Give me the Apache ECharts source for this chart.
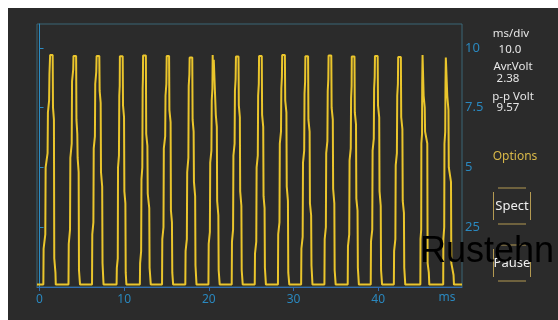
<!DOCTYPE html>
<html>
<head>
<meta charset="utf-8">
<script src="https://cdn.jsdelivr.net/npm/echarts@6/dist/echarts.min.js"></script>
<style>
html,body{margin:0;padding:0;background:#ffffff;width:558px;height:320px;overflow:hidden;}
#chart{position:absolute;left:8px;top:8px;width:550px;height:312px;}
</style>
</head>
<body>
<div id="chart"></div>
<script>
// Time (ms) and voltage samples
const timeMs = [
  -0.3,
  0.45,0.48,0.68,0.72,0.95,0.99,1.13,1.17,1.25,1.55,1.59,1.70,1.74,1.88,1.92,
  3.42,3.45,3.60,3.64,3.80,3.84,3.98,4.01,4.32,4.36,4.46,4.50,4.62,4.66,4.78,
  6.20,6.23,6.36,6.40,6.54,6.58,6.70,6.74,7.06,7.10,7.22,7.26,7.40,7.44,7.56,
  9.10,9.13,9.24,9.27,9.38,9.42,9.47,9.49,9.82,9.86,9.98,10.02,10.14,10.18,10.26,
  11.85,11.88,12.00,12.04,12.14,12.18,12.21,12.23,12.56,12.60,12.74,12.78,12.96,13.00,13.14,
  14.47,14.50,14.64,14.68,14.84,14.88,14.98,15.02,15.30,15.34,15.48,15.52,15.64,15.68,15.78,
  17.22,17.25,17.40,17.44,17.58,17.62,17.70,17.73,18.04,18.08,18.20,18.24,18.38,18.42,18.54,
  19.95,19.98,20.12,20.16,20.30,20.34,20.42,20.45,20.50,20.58,20.78,20.82,20.94,20.98,21.12,21.16,21.28,
  22.70,22.73,22.86,22.90,23.04,23.08,23.16,23.20,23.50,23.54,23.66,23.70,23.84,23.88,24.00,
  25.42,25.45,25.60,25.64,25.78,25.82,25.90,25.93,26.25,26.29,26.42,26.46,26.58,26.62,26.74,
  28.16,28.19,28.34,28.38,28.52,28.56,28.63,28.66,28.98,29.02,29.16,29.20,29.34,29.38,29.50,
  30.90,30.93,31.08,31.12,31.26,31.30,31.37,31.40,31.72,31.76,31.90,31.94,32.08,32.12,32.24,
  33.65,33.68,33.82,33.86,34.00,34.04,34.11,34.14,34.46,34.50,34.64,34.68,34.82,34.86,34.98,
  36.40,36.43,36.58,36.62,36.76,36.80,36.86,36.88,37.20,37.24,37.38,37.42,37.56,37.60,37.72,
  39.12,39.15,39.30,39.34,39.48,39.52,39.59,39.62,39.94,39.98,40.12,40.16,40.30,40.34,40.46,
  41.85,41.88,42.03,42.07,42.21,42.25,42.33,42.36,42.68,42.72,42.86,42.90,43.04,43.08,43.20,
  44.98,45.00,45.08,45.10,45.18,45.20,45.24,45.33,45.37,45.50,45.54,45.80,45.84,45.98,46.04,
  47.68,47.70,47.80,47.83,47.92,47.95,47.99,48.12,48.16,48.30,48.34,48.60,48.64,48.90,48.95,
  49.45,49.55,49.65,49.90
];
const volts = [
  0.1,
  0.1,1.6,2.2,5.0,5.6,7.3,7.8,8.9,9.7,9.7,7.5,7.0,1.2,0.6,0.1,
  0.1,1.8,2.4,5.4,6.0,8.6,9.1,9.66,9.66,7.0,6.4,5.4,4.8,0.7,0.1,
  0.1,2.2,2.7,5.8,6.3,8.5,9.0,9.66,9.66,8.2,7.7,4.8,4.2,1.0,0.1,
  0.1,0.8,1.2,5.0,5.5,8.0,8.4,9.65,9.65,7.6,7.1,4.0,3.5,0.6,0.1,
  0.1,1.0,1.5,4.5,5.0,8.3,8.7,9.68,9.68,6.4,5.9,3.9,3.3,0.8,0.1,
  0.1,2.0,2.5,5.8,6.3,8.0,8.5,9.66,9.66,7.4,6.9,3.2,2.7,0.6,0.1,
  0.1,1.5,2.0,4.8,5.4,8.4,8.9,9.6,9.6,7.0,6.5,4.4,3.8,0.9,0.1,
  0.1,1.8,2.3,5.2,5.7,7.8,8.3,9.7,8.8,9.5,9.5,7.2,6.7,3.6,3.0,0.7,0.1,
  0.1,1.9,2.4,5.5,6.0,8.2,8.7,9.64,9.64,7.6,7.1,4.0,3.4,0.7,0.1,
  0.1,1.4,1.9,5.0,5.5,8.0,8.5,9.66,9.66,7.2,6.7,3.8,3.3,0.8,0.1,
  0.1,2.2,2.7,6.0,6.5,8.3,8.8,9.7,9.7,7.8,7.3,4.2,3.6,0.6,0.1,
  0.1,1.6,2.1,5.2,5.7,8.1,8.6,9.65,9.65,7.0,6.5,3.5,3.0,0.9,0.1,
  0.1,2.0,2.5,5.6,6.1,8.2,8.7,9.68,9.68,7.5,7.0,4.1,3.5,0.7,0.1,
  0.1,1.7,2.2,5.3,5.8,7.9,8.4,9.64,9.64,7.3,6.8,3.7,3.2,0.8,0.1,
  0.1,1.9,2.4,5.7,6.2,8.3,8.8,9.66,9.66,7.6,7.1,4.0,3.4,0.7,0.1,
  0.1,1.5,2.0,5.1,5.6,8.0,8.5,9.62,9.62,7.1,6.6,3.6,3.1,0.8,0.1,
  0.1,2.0,2.4,6.0,6.4,8.5,9.7,9.7,8.0,7.5,6.5,6.0,1.0,0.6,0.1,
  0.1,2.0,2.5,6.0,6.5,8.5,9.6,9.6,8.0,7.4,5.0,4.4,1.0,0.5,0.1,
  0.1,0.03,0.1,0.1
];
const xTickValues = [0, 10, 20, 30, 40];
const xTickLabels = ['0', '10', '20', '30', '40'];
const yTickValues = [2.5, 5, 7.5, 10];
const yTickLabels = ['25', '5', '7.5', '10'];
const xUnit = 'ms';
const infoLabels = ['ms/div', '10.0', 'Avr.Volt', '2.38', 'p-p Volt', '9.57'];
const optionLabels = ['Options', 'Spect', 'Pause'];
const watermark = 'Rustehn';

const trace = timeMs.map((t, i) => [t, volts[i]]);

const chart = echarts.init(document.getElementById('chart'), null, {renderer: 'canvas'});
const font = "'Noto Sans', 'Open Sans', sans-serif";
const axisBlue = '#2a88bf';

const infoY = [26, 42, 59, 71, 89, 100];
const infoX = [503, 502, 505, 500, 505, 500];
const graphics = infoLabels.map((s, i) => ({
  type: 'text', x: infoX[i], y: infoY[i],
  style: {text: s, fill: '#e6e6e6', font: '11.5px ' + font, align: 'center', verticalAlign: 'middle'}
}));
graphics.push({type: 'text', x: 507, y: 149,
  style: {text: optionLabels[0], fill: '#d8b848', font: '12px ' + font, align: 'center', verticalAlign: 'middle'}});
function button(label, top, bottom) {
  const g = [];
  const lc = '#b49a52';
  g.push({type: 'line', shape: {x1: 490, y1: top, x2: 518, y2: top}, style: {stroke: lc, lineWidth: 1}});
  g.push({type: 'line', shape: {x1: 490, y1: bottom, x2: 518, y2: bottom}, style: {stroke: lc, lineWidth: 1}});
  g.push({type: 'line', shape: {x1: 485.5, y1: top + 4, x2: 485.5, y2: bottom - 4}, style: {stroke: lc, lineWidth: 1}});
  g.push({type: 'line', shape: {x1: 522.5, y1: top + 4, x2: 522.5, y2: bottom - 4}, style: {stroke: lc, lineWidth: 1}});
  g.push({type: 'text', x: 504, y: (top + bottom) / 2,
    style: {text: label, fill: '#f0f0f0', font: '13px ' + font, align: 'center', verticalAlign: 'middle'}});
  return g;
}
graphics.push(...button(optionLabels[1], 180, 216));
graphics.push(...button(optionLabels[2], 237, 273));
graphics.push({type: 'text', x: 439, y: 290,
  style: {text: xUnit, fill: axisBlue, font: '12px ' + font, align: 'center', verticalAlign: 'middle'}});
graphics.push({type: 'text', x: 412, y: 244, z: 100,
  style: {text: watermark, fill: '#000000', font: "36px 'Liberation Sans', Arial, sans-serif", align: 'left', verticalAlign: 'middle'}});

chart.setOption({
  animation: false,
  backgroundColor: '#2b2b2b',
  grid: {left: 29, top: 16, right: 96, bottom: 33, show: true, borderColor: '#3b6676', borderWidth: 1, backgroundColor: 'transparent'},
  xAxis: {
    type: 'value', min: -0.3, max: 49.9,
    axisLine: {show: true, lineStyle: {color: '#2f6cb2', width: 1}},
    axisTick: {show: true, length: 4, customValues: xTickValues, lineStyle: {color: '#2f6cb2'}},
    axisLabel: {customValues: xTickValues, margin: 7, color: axisBlue, fontSize: 12, fontFamily: font,
      formatter: v => xTickLabels[xTickValues.indexOf(v)] ?? ''},
    splitLine: {show: false}
  },
  yAxis: {
    type: 'value', position: 'right', min: 0, max: 11,
    axisLine: {show: true, lineStyle: {color: '#2a8cc4', width: 1}},
    axisTick: {show: true, length: 4, customValues: yTickValues, lineStyle: {color: '#2a8cc4'}},
    axisLabel: {customValues: yTickValues, margin: 3, color: axisBlue, fontSize: 13, fontFamily: font,
      formatter: v => yTickLabels[yTickValues.indexOf(v)] ?? ''},
    splitLine: {show: false}
  },
  series: [{
    type: 'line', data: trace, showSymbol: false, symbol: 'none',
    lineStyle: {color: '#eac52c', width: 2},
    z: 3
  }],
  graphic: graphics
});
</script>
</body>
</html>
